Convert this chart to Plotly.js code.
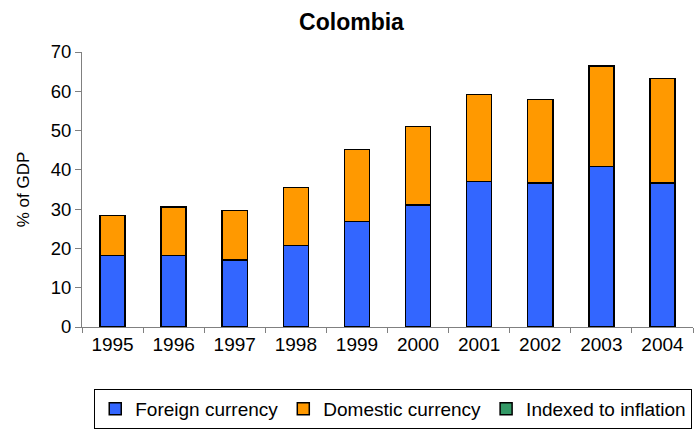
<!DOCTYPE html>
<html>
<head>
<meta charset="utf-8">
<script src="https://cdn.plot.ly/plotly-3.0.1.min.js"></script>
<style>html,body{margin:0;padding:0;background:#fff;}#chart{width:696px;height:429px;}</style>
</head>
<body>
<div id="chart"></div>
<script>
const years = ["1995","1996","1997","1998","1999","2000","2001","2002","2003","2004"];
const foreignCurrency = [18.2, 18.2, 17.0, 20.8, 26.9, 31.0, 37.1, 36.6, 40.8, 36.6];
const domesticCurrency = [10.2, 12.3, 12.7, 14.7, 18.3, 20.0, 22.1, 21.3, 25.7, 26.6];
const indexedToInflation = [0, 0, 0, 0, 0, 0, 0, 0, 0, 0];
const seriesNames = ["Foreign currency", "Domestic currency", "Indexed to inflation"];
const colors = ["#3366ff", "#ff9900", "#339966"];

const font = "Liberation Sans, Arial, sans-serif";
const values = [foreignCurrency, domesticCurrency, indexedToInflation];
const traces = values.map((v, i) => ({
  type: "bar",
  name: seriesNames[i],
  x: years,
  y: v,
  legendrank: 1000 + i,
  marker: {color: colors[i], line: {color: "#000", width: 1.5}},
  hoverinfo: "x+y+name"
}));
// draw the all-zero series at the base so its empty outline sits on the axis
const drawOrder = [traces[2], traces[0], traces[1]];

const layout = {
  width: 696, height: 429,
  margin: {l: 82, r: 3, t: 52, b: 102},
  paper_bgcolor: "#fff", plot_bgcolor: "#fff",
  barmode: "stack",
  bargap: 0.59,
  title: {text: "<b>Colombia</b>", font: {family: font, size: 23, color: "#000"}, x: 0.505, xanchor: "center", y: 0.95, yanchor: "middle"},
  font: {family: font, color: "#000", size: 18},
  xaxis: {
    type: "category",
    showline: true, linecolor: "#808080", linewidth: 1,
    ticks: "outside", tickson: "boundaries", ticklen: 5, tickcolor: "#808080",
    tickfont: {family: font, size: 19, color: "#000"},
    showgrid: false, zeroline: false
  },
  yaxis: {
    range: [0, 70], dtick: 10,
    showline: true, linecolor: "#808080", linewidth: 1,
    ticks: "outside", ticklen: 6, tickcolor: "#808080",
    tickfont: {family: font, size: 18.5, color: "#000"},
    showgrid: false, zeroline: false,
    title: {text: "% of GDP", font: {family: font, size: 17, color: "#000"}, standoff: 16}
  },
  showlegend: true,
  legend: {
    orientation: "h",
    xref: "container", yref: "container",
    x: 0.565, xanchor: "center",
    y: 0.0, yanchor: "bottom",
    bordercolor: "#000", borderwidth: 1,
    font: {family: font, size: 19, color: "#000"},
    traceorder: "normal",
    itemwidth: 30
  }
};

Plotly.newPlot("chart", drawOrder, layout, {displayModeBar: false, staticPlot: true});
</script>
</body>
</html>
